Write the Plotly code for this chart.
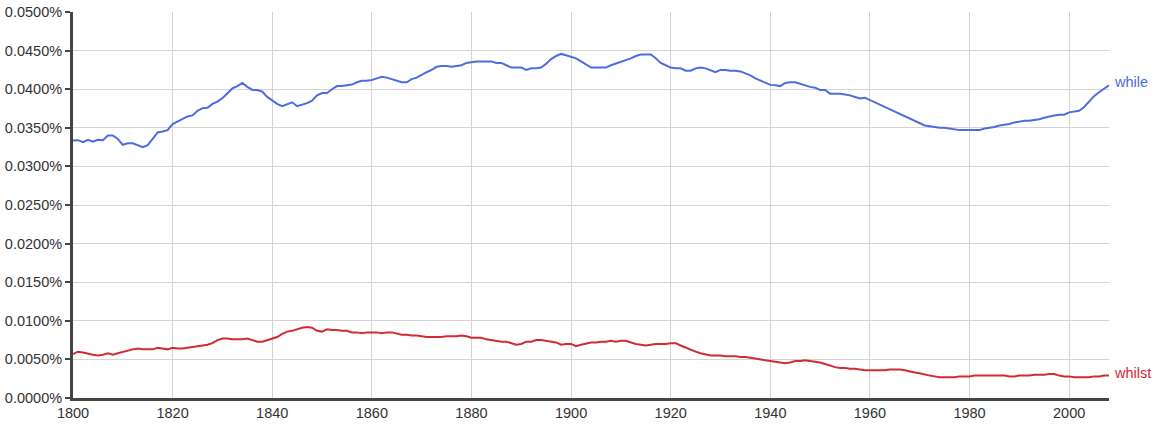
import plotly.graph_objects as go

years = list(range(1800, 2009))

while_pct = [
    0.03336, 0.0334, 0.03315, 0.03345, 0.0332, 0.03345, 0.0334, 0.0340, 0.0340, 0.03355,  # 1800s
    0.0328, 0.0330, 0.0330, 0.0328, 0.0325, 0.03276, 0.03366, 0.0344, 0.03453, 0.0347,    # 1810s
    0.03547, 0.0358, 0.0362, 0.03647, 0.0366, 0.0372, 0.03754, 0.0376, 0.0381, 0.0384,   # 1820s
    0.03884, 0.0395, 0.0401, 0.0404, 0.0408, 0.0403, 0.0399, 0.0399, 0.0397, 0.0390,     # 1830s
    0.0385, 0.0381, 0.0378, 0.0381, 0.0383, 0.0378, 0.0380, 0.0382, 0.0385, 0.0392,      # 1840s
    0.0395, 0.0395, 0.0400, 0.0404, 0.0404, 0.0405, 0.0406, 0.0409, 0.0411, 0.0411,      # 1850s
    0.0412, 0.0414, 0.0416, 0.0415, 0.0413, 0.0412, 0.0409, 0.0409, 0.0413, 0.0415,      # 1860s
    0.0419, 0.0422, 0.0425, 0.0429, 0.0430, 0.0430, 0.0429, 0.0430, 0.0431, 0.0434,      # 1870s
    0.0435, 0.0436, 0.0436, 0.0436, 0.0436, 0.0434, 0.0434, 0.0431, 0.0428, 0.0428,      # 1880s
    0.0428, 0.0425, 0.0427, 0.0427, 0.0428, 0.0433, 0.0439, 0.0443, 0.04457, 0.0444,     # 1890s
    0.0442, 0.0440, 0.0436, 0.0432, 0.0428, 0.0428, 0.0428, 0.0428, 0.0431, 0.0433,      # 1900s
    0.0436, 0.0438, 0.0440, 0.0443, 0.0445, 0.0445, 0.0445, 0.0440, 0.0434, 0.0431,      # 1910s
    0.0428, 0.0427, 0.0427, 0.0424, 0.0424, 0.0427, 0.0428, 0.0427, 0.0425, 0.0422,      # 1920s
    0.0425, 0.0425, 0.0424, 0.0424, 0.0423, 0.0421, 0.0418, 0.0414, 0.0411, 0.0408,      # 1930s
    0.04056, 0.0405, 0.0404, 0.0408, 0.0409, 0.0409, 0.0407, 0.0405, 0.0403, 0.0402,     # 1940s
    0.0399, 0.0399, 0.0394, 0.0394, 0.0394, 0.0393, 0.0392, 0.0390, 0.0388, 0.0389,      # 1950s
    0.0386, 0.0383, 0.0379, 0.0377, 0.0374, 0.0371, 0.0368, 0.0365, 0.0361, 0.0358,      # 1960s
    0.0356, 0.0353, 0.0352, 0.0351, 0.0350, 0.0350, 0.0349, 0.0348, 0.0347, 0.0347,      # 1970s
    0.0347, 0.0347, 0.0347, 0.0349, 0.0350, 0.0351, 0.0353, 0.0354, 0.0355, 0.0357,      # 1980s
    0.0358, 0.0359, 0.0359, 0.0360, 0.0361, 0.0363, 0.0365, 0.0366, 0.0367, 0.0367,      # 1990s
    0.0370, 0.0371, 0.0372, 0.0377, 0.0384, 0.0391, 0.0396, 0.0400, 0.0405,             # 2000-2008
]

whilst_pct = [
    0.0057, 0.0060, 0.0059, 0.0057, 0.0056, 0.0055, 0.0056, 0.0058, 0.0056, 0.0058,  # 1800s
    0.0060, 0.0062, 0.0063, 0.0064, 0.0063, 0.0063, 0.0063, 0.0065, 0.0064, 0.0063,  # 1810s
    0.0065, 0.0064, 0.0064, 0.0065, 0.0066, 0.0067, 0.0068, 0.0069, 0.0071, 0.0075,  # 1820s
    0.0077, 0.0077, 0.0076, 0.0076, 0.0076, 0.0077, 0.0075, 0.0073, 0.0073, 0.0075,  # 1830s
    0.0076, 0.0079, 0.0083, 0.0086, 0.0087, 0.0089, 0.0091, 0.0092, 0.0091, 0.0087,  # 1840s
    0.0086, 0.0089, 0.0088, 0.0088, 0.0087, 0.0087, 0.0085, 0.0085, 0.0084, 0.0085,  # 1850s
    0.0085, 0.0085, 0.0084, 0.0085, 0.0085, 0.0083, 0.0082, 0.0082, 0.0081, 0.0081,  # 1860s
    0.0080, 0.0079, 0.0079, 0.0079, 0.0079, 0.0080, 0.0080, 0.0080, 0.0081, 0.0080,  # 1870s
    0.0078, 0.0078, 0.0078, 0.0076, 0.0075, 0.0074, 0.0073, 0.0073, 0.0071, 0.0069,  # 1880s
    0.0070, 0.0073, 0.0073, 0.0075, 0.0075, 0.0074, 0.0073, 0.0072, 0.0069, 0.0070,  # 1890s
    0.0070, 0.0067, 0.0069, 0.0071, 0.0072, 0.0072, 0.0073, 0.0073, 0.0074, 0.0073,  # 1900s
    0.0074, 0.0074, 0.0072, 0.0070, 0.0069, 0.0068, 0.0069, 0.0070, 0.0070, 0.0070,  # 1910s
    0.0071, 0.0071, 0.0068, 0.0065, 0.0062, 0.0060, 0.0058, 0.0056, 0.0055, 0.0055,  # 1920s
    0.0055, 0.0054, 0.0054, 0.0054, 0.0053, 0.0053, 0.0052, 0.0051, 0.0050, 0.0049,  # 1930s
    0.0048, 0.0047, 0.0046, 0.0045, 0.0046, 0.0048, 0.0048, 0.0049, 0.0048, 0.0047,  # 1940s
    0.0046, 0.0044, 0.0042, 0.0040, 0.0039, 0.0039, 0.0038, 0.0038, 0.0037, 0.0036,  # 1950s
    0.0036, 0.0036, 0.0036, 0.0036, 0.0037, 0.0037, 0.0037, 0.0036, 0.0034, 0.0033,  # 1960s
    0.0032, 0.0030, 0.0029, 0.0028, 0.0027, 0.0027, 0.0027, 0.0027, 0.0028, 0.0028,  # 1970s
    0.0028, 0.0029, 0.0029, 0.0029, 0.0029, 0.0029, 0.0029, 0.0029, 0.0028, 0.0028,  # 1980s
    0.0029, 0.0029, 0.0029, 0.0030, 0.0030, 0.0030, 0.0031, 0.0031, 0.0029, 0.0028,  # 1990s
    0.0028, 0.0027, 0.0027, 0.0027, 0.0027, 0.0028, 0.0028, 0.0029, 0.0029,          # 2000-2008
]

series_names = ["while", "whilst"]
series_colors = ["#4c6ce0", "#d42a35"]
x_ticks = [1800, 1820, 1840, 1860, 1880, 1900, 1920, 1940, 1960, 1980, 2000]
y_ticks = [0.0, 0.005, 0.01, 0.015, 0.02, 0.025, 0.03, 0.035, 0.04, 0.045, 0.05]
y_tick_labels = ["%.4f%%" % v for v in y_ticks]

FONT = "Liberation Sans, Arial, Helvetica, sans-serif"

fig = go.Figure()
for name, vals, col in zip(series_names, [while_pct, whilst_pct], series_colors):
    fig.add_trace(go.Scatter(x=years, y=vals, mode="lines", name=name,
                             line=dict(color=col, width=2), hoverinfo="x+y"))
    fig.add_annotation(x=years[-1], y=vals[-1], text=name, showarrow=False,
                       xanchor="left", yanchor="middle", xshift=3, yshift=3,
                       font=dict(color=col, size=14.5, family=FONT))

fig.update_layout(
    width=1163, height=431,
    margin=dict(l=73, r=54, t=12, b=33, autoexpand=False),
    paper_bgcolor="white", plot_bgcolor="white",
    showlegend=False,
    font=dict(family=FONT, size=14.5, color="#222222"),
)
fig.update_xaxes(range=[1800, 2008], tickvals=x_ticks, ticktext=[str(t) for t in x_ticks],
                 showgrid=True, gridcolor="#d4d4d4", gridwidth=1,
                 showline=True, linecolor="#444444", linewidth=3,
                 ticks="", zeroline=False, automargin=False,
                 tickfont=dict(size=14.5, color="#333333"))
fig.update_yaxes(range=[0, 0.05], tickvals=y_ticks, ticktext=y_tick_labels,
                 showgrid=True, gridcolor="#d4d4d4", gridwidth=1,
                 showline=True, linecolor="#444444", linewidth=3,
                 ticks="outside", ticklen=5, tickcolor="#444444", tickwidth=2,
                 zeroline=False, automargin=False, ticklabeloverflow="allow",
                 tickfont=dict(size=14.5, color="#333333"))

fig.write_html("out.html", config={"displayModeBar": False},
               post_script="document.body.style.margin='0';")
